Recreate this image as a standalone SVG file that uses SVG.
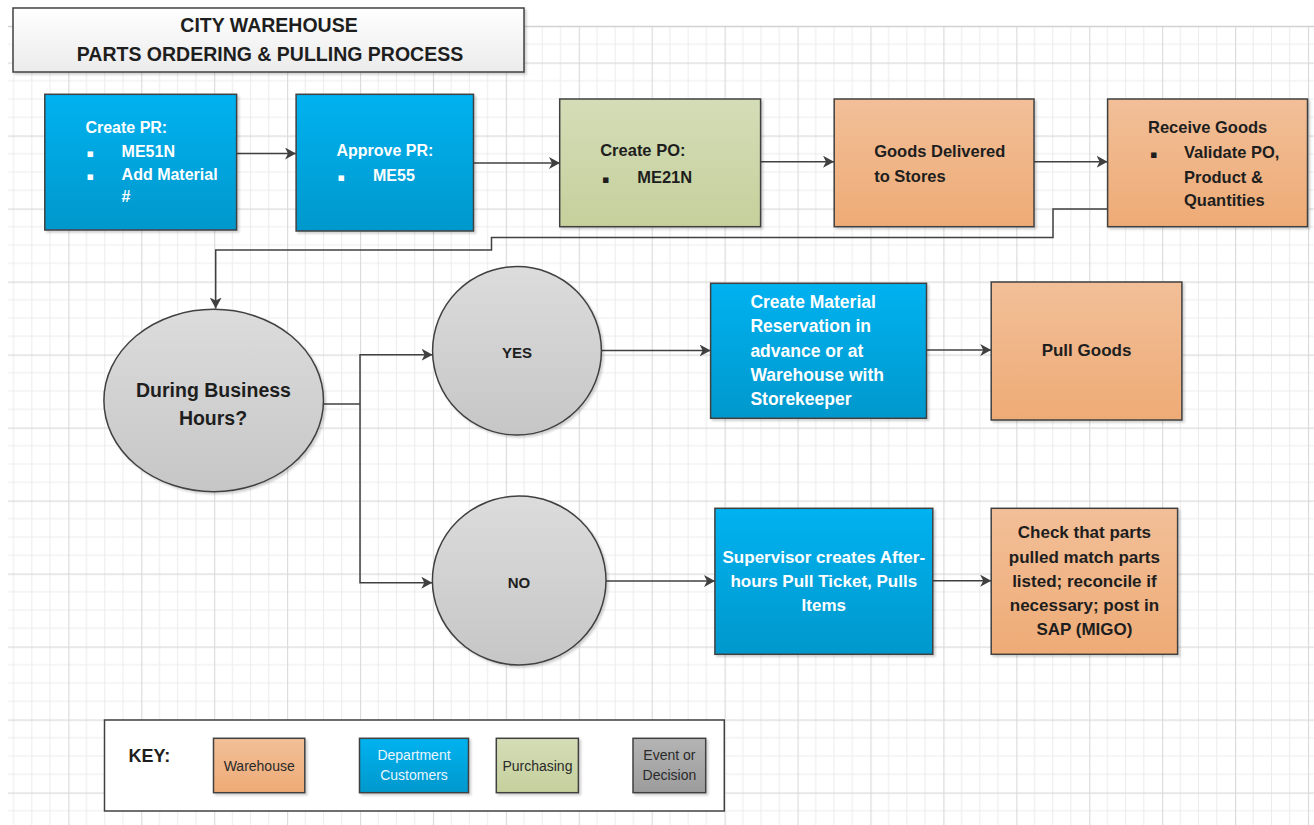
<svg xmlns="http://www.w3.org/2000/svg" width="1314" height="825" viewBox="0 0 1314 825">
  <defs>
    <pattern id="grid" patternUnits="userSpaceOnUse" x="68.3" y="62.5" width="72.92" height="73">
      <path d="M18.23 0V73M36.46 0V73M54.69 0V73M0 18.25H72.92M0 36.5H72.92M0 54.75H72.92" stroke="#ececec" stroke-width="1" fill="none"/>
      <path d="M0.5 0V73M0 0.5H72.92" stroke="#dadada" stroke-width="1.3" fill="none"/>
    </pattern>
    <linearGradient id="gBlue" x1="0" y1="0" x2="0" y2="1">
      <stop offset="0" stop-color="#00b2f0"/>
      <stop offset="1" stop-color="#0098cc"/>
    </linearGradient>
    <linearGradient id="gOrange" x1="0" y1="0" x2="0" y2="1">
      <stop offset="0" stop-color="#f2bf98"/>
      <stop offset="1" stop-color="#eeab76"/>
    </linearGradient>
    <linearGradient id="gGreen" x1="0" y1="0" x2="0" y2="1">
      <stop offset="0" stop-color="#d4ddb7"/>
      <stop offset="1" stop-color="#c5d09c"/>
    </linearGradient>
    <linearGradient id="gGray" x1="0" y1="0" x2="0" y2="1">
      <stop offset="0" stop-color="#dcdcdc"/>
      <stop offset="1" stop-color="#c6c6c6"/>
    </linearGradient>
    <linearGradient id="gDark" x1="0" y1="0" x2="0" y2="1">
      <stop offset="0" stop-color="#b4b4b4"/>
      <stop offset="1" stop-color="#9c9c9c"/>
    </linearGradient>
    <linearGradient id="gTitle" x1="0" y1="0" x2="0" y2="1">
      <stop offset="0" stop-color="#ffffff"/>
      <stop offset="1" stop-color="#ebebeb"/>
    </linearGradient>
    <filter id="sh" x="-10%" y="-10%" width="130%" height="130%">
      <feDropShadow dx="2" dy="2" stdDeviation="1.2" flood-color="#000" flood-opacity="0.18"/>
    </filter>
    <marker id="arr" markerUnits="userSpaceOnUse" markerWidth="14" markerHeight="14" refX="11" refY="6" orient="auto">
      <path d="M0 0L11 6L0 12L3 6Z" fill="#404040"/>
    </marker>
  </defs>
  <style>
    .box{stroke:#404040;stroke-width:1.5;filter:url(#sh)}
    .blue{fill:url(#gBlue)}
    .orange{fill:url(#gOrange)}
    .green{fill:url(#gGreen)}
    .gray{fill:url(#gGray)}
    .dark{fill:url(#gDark)}
    .t{font-family:"Liberation Sans",Arial,sans-serif;font-weight:bold}
    .w{fill:#ffffff}
    .k{fill:#1e1e1e}
    .c{text-anchor:middle}
    .b{font-family:"DejaVu Sans",sans-serif}
    .r{font-family:"Liberation Sans",Arial,sans-serif;font-weight:normal;font-size:14px}
    .conn{fill:none;stroke:#404040;stroke-width:1.5}
  </style>
  <rect x="0" y="0" width="1314" height="825" fill="#ffffff"/>
  <rect x="8" y="26" width="1306" height="799" fill="url(#grid)"/>
  <path d="M8 26.5H1314" stroke="#d2d2d2" stroke-width="1.5"/>

  <g id="title">
    <rect class="box" x="13" y="8" width="511" height="64" fill="url(#gTitle)"/>
    <text class="t k c" x="269" y="32" font-size="19.5">CITY WAREHOUSE</text>
    <text class="t k c" x="270" y="60.5" font-size="19.5">PARTS ORDERING &amp; PULLING PROCESS</text>
  </g>

  <g id="connectors">
    <path class="conn" d="M237 153.5H296" marker-end="url(#arr)"/>
    <path class="conn" d="M473.5 163H560" marker-end="url(#arr)"/>
    <path class="conn" d="M760.6 161.7H834" marker-end="url(#arr)"/>
    <path class="conn" d="M1034 161.7H1107.6" marker-end="url(#arr)"/>
    <path class="conn" d="M1107.6 209H1053V237.5H491.5V250H215.7V308.5" marker-end="url(#arr)"/>
    <path class="conn" d="M323.5 404H360" stroke-width="2.5"/>
    <path class="conn" d="M360 404V354.7H432.6" marker-end="url(#arr)"/>
    <path class="conn" d="M360 404V582.7H432.3" marker-end="url(#arr)"/>
    <path class="conn" d="M601.4 350.5H710.6" marker-end="url(#arr)"/>
    <path class="conn" d="M926.5 350H991.2" marker-end="url(#arr)"/>
    <path class="conn" d="M606 581H715" marker-end="url(#arr)"/>
    <path class="conn" d="M932.8 580.7H991.2" marker-end="url(#arr)"/>
  </g>

  <g id="create-pr">
    <rect class="box blue" x="44.8" y="94.3" width="191.8" height="135.7"/>
    <text class="t w" x="85.4" y="133" font-size="16">Create PR:</text>
    <text class="b w" x="86.5" y="157.2" font-size="11">▪</text>
    <text class="t w" x="121.6" y="157.2" font-size="16">ME51N</text>
    <text class="b w" x="86.5" y="179.5" font-size="11">▪</text>
    <text class="t w" x="121.6" y="179.5" font-size="16">Add Material</text>
    <text class="t w" x="121.6" y="202.2" font-size="16">#</text>
  </g>

  <g id="approve-pr">
    <rect class="box blue" x="296.1" y="94.3" width="177.4" height="136.7"/>
    <text class="t w" x="336.4" y="156.2" font-size="16">Approve PR:</text>
    <text class="b w" x="337.5" y="180.5" font-size="11">▪</text>
    <text class="t w" x="373" y="180.5" font-size="16">ME55</text>
  </g>

  <g id="create-po">
    <rect class="box green" x="559.7" y="99" width="200.9" height="127.7"/>
    <text class="t k" x="600.2" y="155.8" font-size="16.5">Create PO:</text>
    <text class="b k" x="602" y="182.5" font-size="11">▪</text>
    <text class="t k" x="637.2" y="182.5" font-size="16.5">ME21N</text>
  </g>

  <g id="goods-delivered">
    <rect class="box orange" x="834.2" y="99" width="199.8" height="127.7"/>
    <text class="t k" x="874.2" y="157" font-size="16.5">Goods Delivered</text>
    <text class="t k" x="874.2" y="181.5" font-size="16.5">to Stores</text>
  </g>

  <g id="receive-goods">
    <rect class="box orange" x="1107.6" y="99" width="199.9" height="127.7"/>
    <text class="t k" x="1148" y="132.5" font-size="16.5">Receive Goods</text>
    <text class="b k" x="1150" y="157.5" font-size="11">▪</text>
    <text class="t k" x="1184" y="157.5" font-size="16.5">Validate PO,</text>
    <text class="t k" x="1184" y="182.5" font-size="16.5">Product &amp;</text>
    <text class="t k" x="1184" y="205.5" font-size="16.5">Quantities</text>
  </g>

  <g id="decision">
    <ellipse class="box gray" cx="213.7" cy="400.5" rx="109.8" ry="91.2"/>
    <text class="t k c" x="213.5" y="397" font-size="19.5">During Business</text>
    <text class="t k c" x="213" y="425" font-size="19.5">Hours?</text>
  </g>

  <g id="yes">
    <ellipse class="box gray" cx="517" cy="350.8" rx="84.4" ry="84.2"/>
    <text class="t k c" x="517" y="357.5" font-size="15">YES</text>
  </g>

  <g id="no">
    <ellipse class="box gray" cx="519.2" cy="580.5" rx="86.8" ry="84.5"/>
    <text class="t k c" x="519" y="587.5" font-size="15">NO</text>
  </g>

  <g id="create-material">
    <rect class="box blue" x="710.6" y="283.3" width="215.9" height="135"/>
    <text class="t w" x="750.4" y="307.8" font-size="17.5">Create Material</text>
    <text class="t w" x="750.4" y="332.2" font-size="17.5">Reservation in</text>
    <text class="t w" x="750.4" y="356.7" font-size="17.5">advance or at</text>
    <text class="t w" x="750.4" y="381" font-size="17.5">Warehouse with</text>
    <text class="t w" x="750.4" y="405.4" font-size="17.5">Storekeeper</text>
  </g>

  <g id="pull-goods">
    <rect class="box orange" x="991.2" y="282" width="190.7" height="138"/>
    <text class="t k c" x="1086.5" y="356" font-size="17">Pull Goods</text>
  </g>

  <g id="supervisor">
    <rect class="box blue" x="714.9" y="508.3" width="217.9" height="146"/>
    <text class="t w c" x="823.8" y="562.7" font-size="17">Supervisor creates After-</text>
    <text class="t w c" x="823.8" y="586.8" font-size="17">hours Pull Ticket, Pulls</text>
    <text class="t w c" x="823.8" y="611" font-size="17">Items</text>
  </g>

  <g id="check-parts">
    <rect class="box orange" x="991.2" y="508.3" width="186.4" height="146"/>
    <text class="t k c" x="1084.4" y="538.4" font-size="17">Check that parts</text>
    <text class="t k c" x="1084.4" y="562.7" font-size="17">pulled match parts</text>
    <text class="t k c" x="1084.4" y="586.8" font-size="17">listed; reconcile if</text>
    <text class="t k c" x="1084.4" y="611" font-size="17">necessary; post in</text>
    <text class="t k c" x="1084.4" y="635.4" font-size="17">SAP (MIGO)</text>
  </g>

  <g id="key">
    <rect x="104.5" y="720" width="619.8" height="91" fill="#ffffff" stroke="#404040" stroke-width="1.5"/>
    <text class="t k" x="128.6" y="761.5" font-size="18">KEY:</text>
    <rect class="box orange" x="213.5" y="738.3" width="91.3" height="54.4"/>
    <text class="r c" x="259.2" y="770.7" fill="#2a2a2a">Warehouse</text>
    <rect class="box blue" x="359.5" y="738.3" width="109" height="54.4"/>
    <text class="r c" x="414" y="760" fill="#e8f6ff">Department</text>
    <text class="r c" x="414" y="780" fill="#e8f6ff">Customers</text>
    <rect class="box green" x="496.3" y="738.3" width="82.1" height="54.4"/>
    <text class="r c" x="537.4" y="770.7" fill="#2a2a2a">Purchasing</text>
    <rect class="box dark" x="633" y="738.3" width="72.7" height="54.4"/>
    <text class="r c" x="669.4" y="760" fill="#2a2a2a">Event or</text>
    <text class="r c" x="669.4" y="780" fill="#2a2a2a">Decision</text>
  </g>
</svg>
